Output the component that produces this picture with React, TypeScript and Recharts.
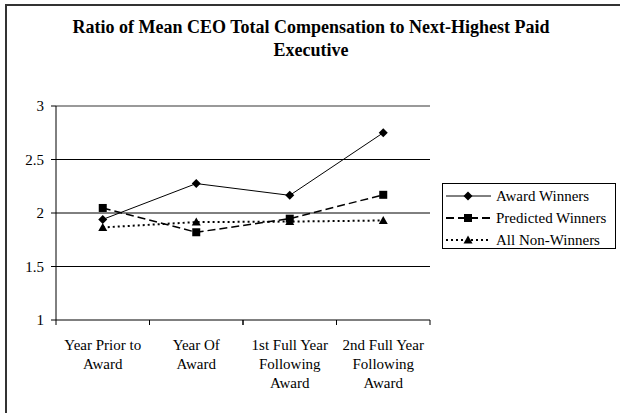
import React from "react";
import { LineChart, Line, XAxis, YAxis, ReferenceLine } from "recharts";

const categories = [
  "Year Prior to Award",
  "Year Of Award",
  "1st Full Year Following Award",
  "2nd Full Year Following Award",
];
const categoryLines = [
  ["Year Prior to", "Award"],
  ["Year Of", "Award"],
  ["1st Full Year", "Following", "Award"],
  ["2nd Full Year", "Following", "Award"],
];
const awardWinners = [1.94, 2.275, 2.165, 2.75];
const predictedWinners = [2.047, 1.82, 1.947, 2.17];
const allNonWinners = [1.865, 1.915, 1.92, 1.93];
const yTicks = [1, 1.5, 2, 2.5, 3];
const gridValues = [1.5, 2, 2.5];
const seriesNames = ["Award Winners", "Predicted Winners", "All Non-Winners"];

const data = categories.map((c, i) => ({
  name: c,
  award: awardWinners[i],
  predicted: predictedWinners[i],
  nonWinners: allNonWinners[i],
}));

const FONT = "Liberation Serif, Times New Roman, serif";
const HALF_BAND = 46.75;
const FS = 15;

const Diamond = (props: any) => {
  const { cx, cy } = props;
  if (cx == null || cy == null) return null;
  const s = 4.5;
  return (
    <path
      d={`M${cx},${cy - s} L${cx + s},${cy} L${cx},${cy + s} L${cx - s},${cy} Z`}
      fill="#000"
    />
  );
};
const Square = (props: any) => {
  const { cx, cy } = props;
  if (cx == null || cy == null) return null;
  const s = 4;
  return <rect x={cx - s} y={cy - s} width={2 * s} height={2 * s} fill="#000" />;
};
const Triangle = (props: any) => {
  const { cx, cy } = props;
  if (cx == null || cy == null) return null;
  const s = 4.5;
  return (
    <path
      d={`M${cx},${cy - s} L${cx + s},${cy + s - 1} L${cx - s},${cy + s - 1} Z`}
      fill="#000"
    />
  );
};

const XTick = (props: any) => {
  const { x, y, payload, index } = props;
  const lines = categoryLines[payload.index ?? index] || [payload.value];
  return (
    <g>
      <line x1={x - HALF_BAND} y1={y - 8} x2={x - HALF_BAND} y2={y - 3} stroke="#000" />
      <line x1={x + HALF_BAND} y1={y - 8} x2={x + HALF_BAND} y2={y - 3} stroke="#000" />
      {lines.map((l: string, i: number) => (
        <text
          key={i}
          x={x}
          y={y + 22 + i * 19}
          textAnchor="middle"
          fontFamily={FONT}
          fontSize={FS}
          fill="#000"
        >
          {l}
        </text>
      ))}
    </g>
  );
};

const YTick = (props: any) => {
  const { x, y, payload } = props;
  return (
    <text
      x={x - 5}
      y={y + 5}
      textAnchor="end"
      fontFamily={FONT}
      fontSize={FS}
      fill="#000"
    >
      {String(payload.value)}
    </text>
  );
};

const legendItems = [
  { label: seriesNames[0], dash: undefined, width: 1, marker: "diamond" },
  { label: seriesNames[1], dash: "8 4", width: 2, marker: "square" },
  { label: seriesNames[2], dash: "2 3", width: 2, marker: "triangle" },
];

const LegendBox = () => (
  <div
    style={{
      position: "absolute",
      left: 442,
      top: 183,
      border: "1px solid #000",
      width: 174,
      height: 66,
      boxSizing: "border-box",
      background: "#fff",
    }}
  >
    <svg width={172} height={64} style={{ display: "block" }}>
      {legendItems.map((it, i) => {
        const cy = 12 + i * 22;
        const mx = 25;
        return (
          <g key={i}>
            <line
              x1={3}
              x2={48}
              y1={cy}
              y2={cy}
              stroke="#000"
              strokeWidth={it.width}
              strokeDasharray={it.dash}
            />
            {it.marker === "diamond" && <Diamond cx={mx} cy={cy} />}
            {it.marker === "square" && <Square cx={mx} cy={cy} />}
            {it.marker === "triangle" && <Triangle cx={mx} cy={cy} />}
            <text x={53} y={cy + 5} fontFamily={FONT} fontSize={FS} fill="#000">
              {it.label}
            </text>
          </g>
        );
      })}
    </svg>
  </div>
);

export default function App() {
  return (
    <div
      style={{
        position: "absolute",
        left: 0,
        top: 0,
        width: 620,
        height: 413,
        background: "#fff",
        overflow: "hidden",
        fontFamily: FONT,
      }}
    >
      <div
        style={{
          position: "absolute",
          left: 5,
          top: 4,
          width: 640,
          height: 440,
          borderLeft: "2px solid #333",
          borderTop: "2px solid #333",
        }}
      />
      <div
        style={{
          position: "absolute",
          left: 6,
          top: 16,
          width: 610,
          textAlign: "center",
          fontFamily: FONT,
          fontWeight: "bold",
          fontSize: 18,
          lineHeight: "23px",
          color: "#000",
        }}
      >
        Ratio of Mean CEO Total Compensation to Next-Highest Paid
        <br />
        Executive
      </div>
      <div style={{ position: "absolute", left: 0, top: 0 }}>
        <LineChart
          width={620}
          height={413}
          data={data}
          margin={{ top: 106, right: 190, bottom: 33, left: 26 }}
        >
          <XAxis
            dataKey="name"
            stroke="#000"
            tickLine={false}
            tick={<XTick />}
            height={60}
            interval={0}
            padding={{ left: HALF_BAND, right: HALF_BAND }}
          />
          <YAxis
            yAxisId="left"
            domain={[1, 3]}
            ticks={yTicks}
            stroke="#000"
            width={30}
            tickSize={5}
            tick={<YTick />}
            interval={0}
          />
          <YAxis
            yAxisId="right"
            orientation="right"
            domain={[1, 3]}
            tick={false}
            tickLine={false}
            width={0}
            axisLine={{ stroke: "#999", strokeWidth: 2 }}
          />
          {gridValues.map((v) => (
            <ReferenceLine key={v} yAxisId="left" y={v} stroke="#000" />
          ))}
          <ReferenceLine yAxisId="left" y={3} stroke="#999" strokeWidth={2} />
          <Line
            yAxisId="left"
            name={seriesNames[0]}
            dataKey="award"
            stroke="#000"
            strokeWidth={1}
            dot={<Diamond />}
            isAnimationActive={false}
          />
          <Line
            yAxisId="left"
            name={seriesNames[1]}
            dataKey="predicted"
            stroke="#000"
            strokeWidth={1.5}
            strokeDasharray="8 4"
            dot={<Square />}
            isAnimationActive={false}
          />
          <Line
            yAxisId="left"
            name={seriesNames[2]}
            dataKey="nonWinners"
            stroke="#000"
            strokeWidth={2}
            strokeDasharray="2 3"
            dot={<Triangle />}
            isAnimationActive={false}
          />
        </LineChart>
      </div>
      <LegendBox />
    </div>
  );
}
